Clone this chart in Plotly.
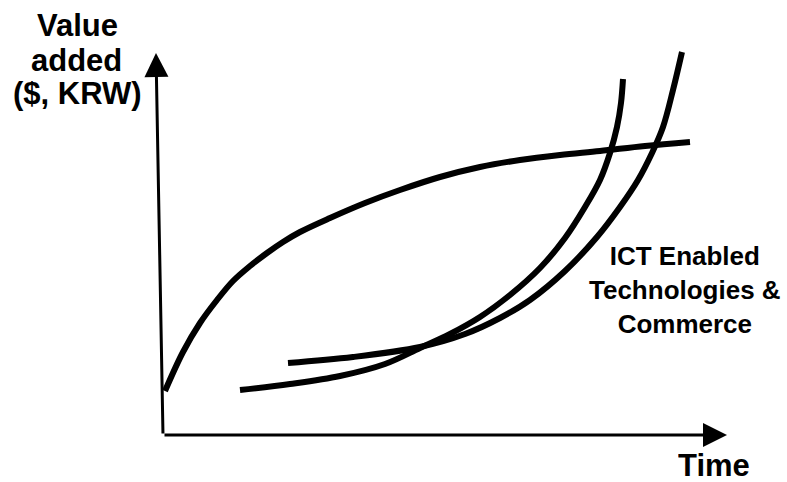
import plotly.graph_objects as go

# ---- data (time units, value units; origin at axis corner) ----
traditional_x = [0.2, 2.0, 3.7, 5.4, 7.0, 8.7, 10.4, 12.0, 13.7, 16.7, 20.2, 23.7, 27.7, 31.7, 35.7, 39.7, 43.7, 48.2, 52.7]
traditional_y = [4.4, 8.3, 11.2, 13.5, 15.4, 16.9, 18.2, 19.3, 20.3, 21.7, 23.2, 24.5, 25.8, 26.8, 27.5, 28.0, 28.4, 28.9, 29.3]

ict_a_x = [7.7, 12.7, 17.7, 22.2, 25.7, 28.7, 31.7, 34.7, 37.7, 40.2, 42.2, 43.7, 44.7, 45.4, 45.8, 46.0]
ict_a_y = [4.5, 5.1, 5.9, 7.1, 8.7, 10.1, 11.8, 14.0, 16.7, 19.7, 22.8, 25.5, 28.2, 30.8, 33.2, 35.6]

ict_b_x = [12.5, 19.0, 25.7, 30.2, 33.7, 36.7, 40.2, 43.4, 45.7, 47.5, 48.9, 50.0, 51.0, 51.9]
ict_b_y = [7.2, 7.8, 8.8, 10.1, 11.7, 13.5, 16.4, 19.8, 22.8, 25.5, 28.2, 30.8, 34.5, 38.3]

axis_origin = (0.0, 0.0)
y_arrow_tip = (-0.7, 38.2)
x_arrow_tip = (56.4, 0.0)

y_label_lines = ["Value", "added", "($, KRW)"]
x_label = "Time"
ict_label = "ICT Enabled<br>Technologies &<br>Commerce"

W, H = 787, 482
FONT = "Liberation Sans, Arial, sans-serif"

fig = go.Figure()
for xs, ys in [(traditional_x, traditional_y), (ict_a_x, ict_a_y), (ict_b_x, ict_b_y)]:
    fig.add_trace(go.Scatter(x=xs, y=ys, mode="lines",
                             line=dict(color="black", width=6, shape="spline", smoothing=1.0),
                             hoverinfo="skip"))

annotations = []
for tip in (y_arrow_tip, x_arrow_tip):
    annotations.append(dict(x=tip[0], y=tip[1], ax=axis_origin[0], ay=axis_origin[1],
                            xref="x", yref="y", axref="x", ayref="y", text="",
                            showarrow=True, arrowhead=2, arrowwidth=3, arrowsize=1.6,
                            arrowcolor="black"))

def px(xp, yp):
    return xp / W, 1 - yp / H

for txt, (cx, cy) in zip(y_label_lines, [(77, 25), (76, 60), (77, 94)]):
    x, y = px(cx, cy)
    annotations.append(dict(x=x, y=y, xref="paper", yref="paper", text="<b>%s</b>" % txt,
                            showarrow=False, xanchor="center", yanchor="middle",
                            font=dict(family=FONT, size=31, color="black")))

x, y = px(714, 465)
annotations.append(dict(x=x, y=y, xref="paper", yref="paper", text="<b>%s</b>" % x_label,
                        showarrow=False, xanchor="center", yanchor="middle", height=32,
                        valign="middle",
                        font=dict(family=FONT, size=31, color="black")))

x, y = px(685, 290)
annotations.append(dict(x=x, y=y, xref="paper", yref="paper", text="<b>%s</b>" % ict_label,
                        showarrow=False, xanchor="center", yanchor="middle", align="center",
                        font=dict(family=FONT, size=26, color="black")))

fig.update_layout(
    width=W, height=H,
    margin=dict(l=0, r=0, t=0, b=0),
    paper_bgcolor="white", plot_bgcolor="white",
    showlegend=False,
    xaxis=dict(range=[-16.3, 62.4], visible=False, fixedrange=True),
    yaxis=dict(range=[-4.7, 43.5], visible=False, fixedrange=True),
    annotations=annotations,
)

fig.write_html("out.html")
